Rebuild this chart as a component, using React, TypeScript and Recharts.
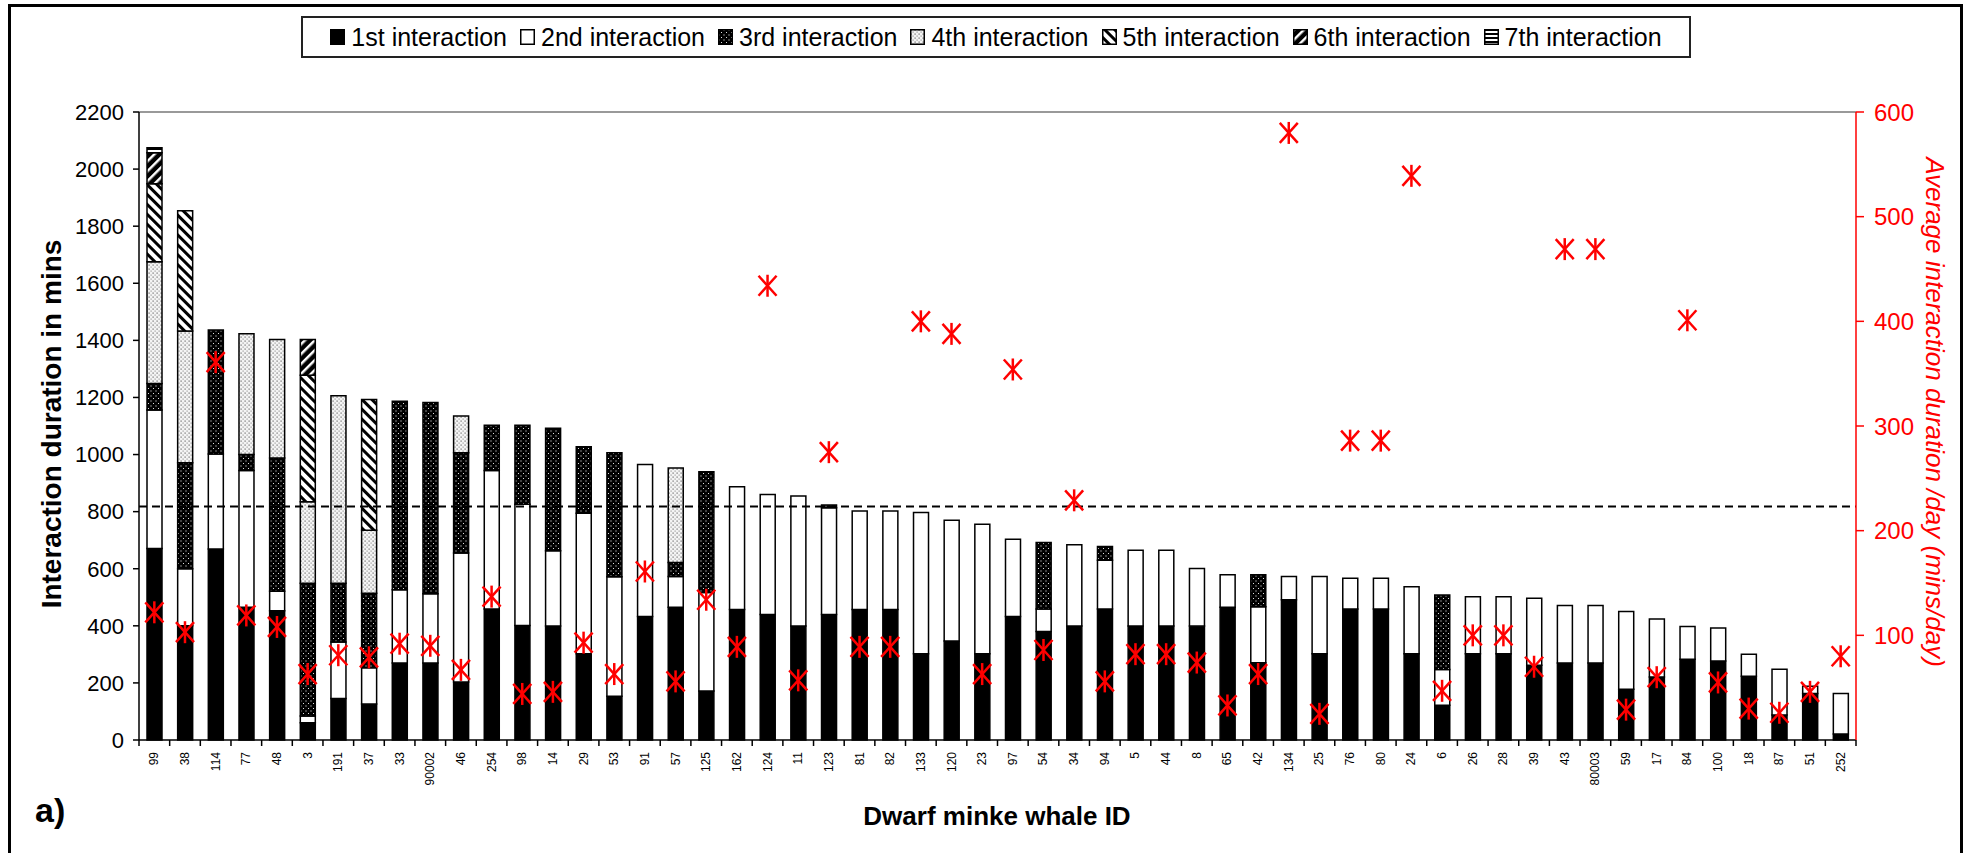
import React from 'react';
import { ComposedChart, Bar, Scatter, XAxis, YAxis, ReferenceLine } from 'recharts';

const whaleIds = ['99', '38', '114', '77', '48', '3', '191', '37', '33', '90002', '46', '254', '98', '14', '29', '53', '91', '57', '125', '162', '124', '11', '123', '81', '82', '133', '120', '23', '97', '54', '34', '94', '5', '44', '8', '65', '42', '134', '25', '76', '80', '24', '6', '26', '28', '39', '43', '80003', '59', '17', '84', '100', '18', '87', '51', '252'];

// minutes per interaction, stacked
const first = [671, 400, 669, 465, 453, 60, 145, 126, 270, 270, 203, 459, 401, 399, 302, 153, 433, 465, 172, 457, 440, 399, 440, 457, 457, 302, 347, 302, 433, 380, 399, 459, 399, 399, 399, 465, 271, 491, 302, 459, 459, 302, 122, 302, 302, 262, 270, 270, 178, 221, 283, 277, 223, 88, 163, 21];
const second = [485, 200, 333, 479, 68, 24, 198, 127, 256, 242, 452, 485, 425, 264, 492, 419, 532, 108, 345, 430, 420, 456, 374, 345, 345, 495, 423, 454, 270, 79, 285, 171, 266, 266, 202, 114, 196, 82, 271, 108, 108, 235, 125, 200, 200, 235, 201, 201, 272, 203, 115, 115, 77, 160, 25, 142];
const third = [93, 371, 434, 56, 467, 465, 206, 261, 661, 670, 351, 159, 277, 429, 233, 434, 0, 49, 423, 0, 0, 0, 9, 0, 0, 0, 0, 0, 0, 233, 0, 48, 0, 0, 0, 0, 112, 0, 0, 0, 0, 0, 261, 0, 0, 0, 0, 0, 0, 0, 0, 0, 0, 0, 0, 0];
const fourth = [426, 462, 0, 423, 415, 286, 657, 221, 0, 0, 129, 0, 0, 0, 0, 0, 0, 331, 0, 0, 0, 0, 0, 0, 0, 0, 0, 0, 0, 0, 0, 0, 0, 0, 0, 0, 0, 0, 0, 0, 0, 0, 0, 0, 0, 0, 0, 0, 0, 0, 0, 0, 0, 0, 0, 0];
const fifth = [274, 421, 0, 0, 0, 443, 0, 458, 0, 0, 0, 0, 0, 0, 0, 0, 0, 0, 0, 0, 0, 0, 0, 0, 0, 0, 0, 0, 0, 0, 0, 0, 0, 0, 0, 0, 0, 0, 0, 0, 0, 0, 0, 0, 0, 0, 0, 0, 0, 0, 0, 0, 0, 0, 0, 0];
const sixth = [108, 0, 0, 0, 0, 125, 0, 0, 0, 0, 0, 0, 0, 0, 0, 0, 0, 0, 0, 0, 0, 0, 0, 0, 0, 0, 0, 0, 0, 0, 0, 0, 0, 0, 0, 0, 0, 0, 0, 0, 0, 0, 0, 0, 0, 0, 0, 0, 0, 0, 0, 0, 0, 0, 0, 0];
const seventh = [18, 0, 0, 0, 0, 0, 0, 0, 0, 0, 0, 0, 0, 0, 0, 0, 0, 0, 0, 0, 0, 0, 0, 0, 0, 0, 0, 0, 0, 0, 0, 0, 0, 0, 0, 0, 0, 0, 0, 0, 0, 0, 0, 0, 0, 0, 0, 0, 0, 0, 0, 0, 0, 0, 0, 0];

// average interaction duration (mins/day), right axis
const avgPerDay = [122, 103, 361, 119, 108, 63, 81, 79, 92, 90, 67, 137, 44, 46, 93, 63, 161, 56, 134, 89, 434, 57, 275, 89, 89, 400, 388, 63, 354, 86, 229, 56, 82, 82, 74, 33, 63, 580, 25, 286, 286, 539, 47, 100, 100, 70, 469, 469, 29, 60, 401, 55, 30, 26, 46, 80];

const meanDuration = 818;
const leftTicks = [0, 200, 400, 600, 800, 1000, 1200, 1400, 1600, 1800, 2000, 2200];
const rightTicks = [100, 200, 300, 400, 500, 600];

const interactionNames = ['1st interaction', '2nd interaction', '3rd interaction', '4th interaction', '5th interaction', '6th interaction', '7th interaction'];
const seriesKeys = ['s1', 's2', 's3', 's4', 's5', 's6', 's7'];
const seriesFills = ['#000', '#fff', 'url(#pDark)', 'url(#pLight)', 'url(#pBack)', 'url(#pFwd)', 'url(#pHoriz)'];

const data = whaleIds.map((id, i) => ({
  id,
  s1: first[i],
  s2: second[i],
  s3: third[i],
  s4: fourth[i],
  s5: fifth[i],
  s6: sixth[i],
  s7: seventh[i],
  avg: avgPerDay[i],
}));

const FONT = '"Liberation Sans", Arial, sans-serif';

const PatternDefs = () => (
  <svg width="0" height="0" style={{ position: 'absolute' }}>
    <defs>
      <pattern id="pDark" width="5" height="5" patternUnits="userSpaceOnUse">
        <rect width="5" height="5" fill="#000" />
        <rect x="0.5" y="0.5" width="1" height="1" fill="#fff" />
        <rect x="3" y="3" width="1" height="1" fill="#ddd" />
      </pattern>
      <pattern id="pLight" width="4" height="4" patternUnits="userSpaceOnUse">
        <rect width="4" height="4" fill="#f4f4f4" />
        <rect x="0.5" y="0.5" width="1.2" height="1.2" fill="#666" />
        <rect x="2.5" y="2.5" width="1.2" height="1.2" fill="#999" />
      </pattern>
      <pattern id="pBack" width="7" height="7" patternUnits="userSpaceOnUse" patternTransform="rotate(-45)">
        <rect width="7" height="7" fill="#fff" />
        <rect width="3" height="7" fill="#000" />
      </pattern>
      <pattern id="pFwd" width="7" height="7" patternUnits="userSpaceOnUse" patternTransform="rotate(45)">
        <rect width="7" height="7" fill="#000" />
        <rect width="2.5" height="7" fill="#fff" />
      </pattern>
      <pattern id="pHoriz" width="4" height="4" patternUnits="userSpaceOnUse">
        <rect width="4" height="4" fill="#fff" />
        <rect width="4" height="2" fill="#000" />
      </pattern>
    </defs>
  </svg>
);

const StarMarker = (props: any) => {
  const { cx, cy } = props;
  if (cx == null || cy == null) return null;
  return (
    <g stroke="#ff0000" strokeWidth={2.5}>
      <line x1={cx - 9} y1={cy - 10} x2={cx + 9} y2={cy + 10} />
      <line x1={cx - 9} y1={cy + 10} x2={cx + 9} y2={cy - 10} />
      <line x1={cx} y1={cy - 11} x2={cx} y2={cy + 11} />
    </g>
  );
};

const IdTick = (props: any) => {
  const { x, y, payload, index, visibleTicksCount } = props;
  const half = payload && payload.offset ? payload.offset : 15.33;
  const ty = y + 12;
  return (
    <g>
      <line x1={x - half} x2={x - half} y1={y} y2={y + 6} stroke="#000" strokeWidth={1.5} />
      {index === visibleTicksCount - 1 && (
        <line x1={x + half} x2={x + half} y1={y} y2={y + 6} stroke="#000" strokeWidth={1.5} />
      )}
      <text
        x={x}
        y={ty}
        transform={`rotate(-90, ${x}, ${ty})`}
        textAnchor="end"
        dominantBaseline="central"
        fontSize={12}
        fontFamily={FONT}
        fill="#000"
      >
        {payload.value}
      </text>
    </g>
  );
};

const LegendIcon = ({ fill }: { fill: string }) => (
  <svg width="15" height="16" style={{ marginRight: 6 }}>
    <rect x="0.75" y="0.75" width="13.5" height="14.5" fill={fill} stroke="#000" strokeWidth={1.5} />
  </svg>
);

export default function App() {
  return (
    <div style={{ position: 'absolute', left: 0, top: 0, width: 1975, height: 853, overflow: 'hidden', background: '#fff', fontFamily: FONT }}>
      <PatternDefs />
      <div style={{ position: 'absolute', left: 8, top: 4, width: 1949, height: 900, border: '3px solid #000' }} />
      <ComposedChart
        width={1975}
        height={853}
        data={data}
        margin={{ top: 112, right: 19, bottom: 13, left: 39 }}
      >
        <XAxis
          dataKey="id"
          interval={0}
          height={100}
          tickLine={false}
          tickSize={0}
          tickMargin={0}
          tick={<IdTick />}
          axisLine={{ stroke: '#000', strokeWidth: 1.5 }}
        />
        <YAxis
          yAxisId="left"
          width={100}
          domain={[0, 2200]}
          ticks={leftTicks}
          interval={0}
          tickSize={6}
          tickMargin={9}
          axisLine={{ stroke: '#000', strokeWidth: 1.5 }}
          tickLine={{ stroke: '#000', strokeWidth: 1.5 }}
          tick={{ fill: '#000', fontSize: 22, fontFamily: FONT }}
        />
        <YAxis
          yAxisId="right"
          orientation="right"
          width={100}
          domain={[0, 600]}
          ticks={rightTicks}
          interval={0}
          tickSize={8}
          tickMargin={10}
          axisLine={{ stroke: '#ff0000', strokeWidth: 1.5 }}
          tickLine={{ stroke: '#ff0000', strokeWidth: 1.5 }}
          tick={{ fill: '#ff0000', fontSize: 24, fontFamily: FONT }}
        />
        <ReferenceLine yAxisId="left" y={2200} stroke="#999" strokeWidth={2} />
        {seriesKeys.map((key, i) => (
          <Bar
            key={key}
            yAxisId="left"
            dataKey={key}
            name={interactionNames[i]}
            stackId="whale"
            barSize={15}
            fill={seriesFills[i]}
            stroke="#000"
            strokeWidth={1.5}
            isAnimationActive={false}
          />
        ))}
        <ReferenceLine yAxisId="left" y={meanDuration} stroke="#000" strokeWidth={2} strokeDasharray="8 5" />
        <Scatter yAxisId="right" dataKey="avg" shape={<StarMarker />} isAnimationActive={false} />
      </ComposedChart>

      <div
        style={{
          position: 'absolute',
          left: 301,
          top: 16,
          width: 1390,
          height: 42,
          boxSizing: 'border-box',
          border: '2px solid #222',
          display: 'flex',
          alignItems: 'center',
          justifyContent: 'center',
          fontSize: 25,
          color: '#000',
          whiteSpace: 'nowrap',
        }}
      >
        {interactionNames.map((name, i) => (
          <div key={name} style={{ display: 'flex', alignItems: 'center', marginRight: i < interactionNames.length - 1 ? 13 : 0 }}>
            <LegendIcon fill={seriesFills[i]} />
            <span>{name}</span>
          </div>
        ))}
      </div>

      <svg width={1975} height={853} style={{ position: 'absolute', left: 0, top: 0, pointerEvents: 'none' }}>
        <text x={51} y={424} transform="rotate(-90, 51, 424)" textAnchor="middle" dominantBaseline="central" fontSize={28} fontWeight="bold" fontFamily={FONT} fill="#000">
          Interaction duration in mins
        </text>
        <text x={1935} y={412} transform="rotate(90, 1935, 412)" textAnchor="middle" dominantBaseline="central" fontSize={26} fontStyle="italic" fontFamily={FONT} fill="#ff0000">
          Average interaction duration /day (mins/day)
        </text>
        <text x={997} y={825} textAnchor="middle" fontSize={26} fontWeight="bold" fontFamily={FONT} fill="#000">
          Dwarf minke whale ID
        </text>
        <text x={35} y={822} fontSize={34} fontWeight="bold" fontFamily={FONT} fill="#000">
          a)
        </text>
      </svg>
    </div>
  );
}
